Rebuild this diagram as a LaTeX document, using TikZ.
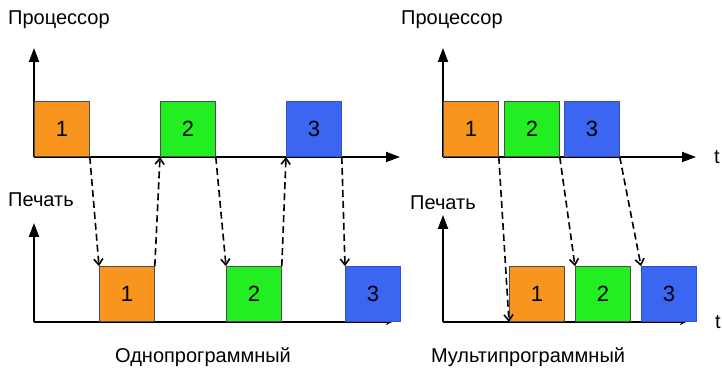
\documentclass[tikz,border=0pt]{standalone}
\usepackage{fontspec}
\setmainfont{Liberation Sans}
\usetikzlibrary{arrows.meta,positioning}

\definecolor{job1}{HTML}{F7951E}
\definecolor{job2}{HTML}{22EE22}
\definecolor{job3}{HTML}{3A66F2}

\tikzset{task/.style = {draw=black!70, line width=0.8pt, fill=#1,
                        minimum width=55pt, minimum height=55pt,
                        anchor=south west, inner sep=0pt, font=\fontsize{22}{22}\selectfont},
         task/.default=job1,
         axe/.style = {line width=2pt, -{Triangle[length=14pt,width=10pt]}},
         axe2/.style = {line width=2pt, -{Stealth[length=6pt,width=6pt]}},
         renvoi/.style = {line width=1.6pt, dash pattern=on 7pt off 4pt, -{Straight Barb[length=6pt,width=9pt]}},
         titre/.style = {anchor=west, inner sep=0pt, font=\fontsize{20}{20}\selectfont},
         legende/.style = {inner sep=0pt, font=\fontsize{20}{20}\selectfont}
        }

\begin{document}
\begin{tikzpicture}[x=1pt, y=1pt]
  \useasboundingbox (0,0) rectangle (722,369);

  % one program
  \coordinate (o1) at (34,212);
  \coordinate (o2) at (34,47);
  \draw[axe]  (o1) -- (34,321);
  \draw[axe]  (o1) -- (400,212);
  \draw[axe]  (o2) -- (34,146);
  \draw[axe2] (o2) -- (392,47);
  \node[titre] (proc1) at (8,349) {Процессор};
  \node[titre] (imp1) at (8,169) {Печать};

  \node[task=job1] (p1) at (34,212)  {1};
  \node[task=job2] (p2) at (160,212) {2};
  \node[task=job3, draw=job3!80!black] (p3) at (286,212) {3};
  \node[task=job1] (q1) at (99,47)   {1};
  \node[task=job2] (q2) at (226,47)  {2};
  \node[task=job3, draw=job3!80!black] (q3) at (345,47)  {3};

  \draw[renvoi] (p1.south east) -- (q1.north west);
  \draw[renvoi] (q1.north east) -- (p2.south west);
  \draw[renvoi] (p2.south east) -- (q2.north west);
  \draw[renvoi] (q2.north east) -- (p3.south west);
  \draw[renvoi] (p3.south east) -- (q3.north west);

  \node[legende] (mode1) at (203,12) {Однопрограммный};

  % multiprogram
  \coordinate (m1) at (443,212);
  \coordinate (m2) at (443,47);
  \draw[axe]  (m1) -- (443,321);
  \draw[axe]  (m1) -- (696,212);
  \draw[axe]  (m2) -- (443,154);
  \draw[axe2] (m2) -- (686,47);
  \node[titre] (proc2) at (401,349) {Процессор};
  \node[titre] (imp2) at (410,166) {Печать};
  \node[legende] (t1) at (717,212) {t};
  \node[legende] (t2) at (718,47) {t};

  \node[task=job1] (r1) at (443,212) {1};
  \node[task=job2] (r2) at (504,212) {2};
  \node[task=job3, draw=job3!80!black] (r3) at (564,212) {3};
  \node[task=job1] (s1) at (509,47)  {1};
  \node[task=job2] (s2) at (575,47)  {2};
  \node[task=job3, draw=job3!80!black] (s3) at (641,47)  {3};

  \draw[renvoi] (r1.south east) -- (s1.south west);
  \draw[renvoi] (r2.south east) -- (s2.north west);
  \draw[renvoi] (r3.south east) -- (s3.north west);

  \node[legende] (mode2) at (528,12) {Мультипрограммный};
\end{tikzpicture}
\end{document}
